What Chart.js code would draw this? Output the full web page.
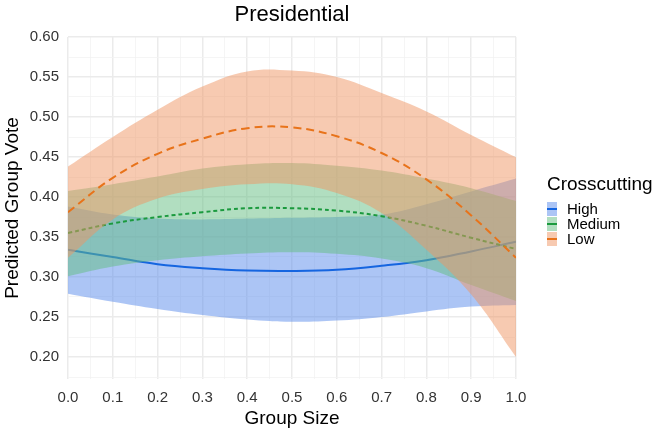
<!DOCTYPE html>
<html lang="en">
<head>
<meta charset="UTF-8">
<title>Presidential</title>
<script src="https://cdn.jsdelivr.net/npm/chart.js"></script>
<style>
  body { margin: 0; background: #fff; }
  #wrap { position: relative; width: 657px; height: 434px; font-family: 'Liberation Sans', Arial, sans-serif; }
  #box { position: absolute; left: 0; top: 0; width: 584px; height: 434px; }
  #legend { position: absolute; left: 547px; top: 173px; color: #000; }
  #legend .title { font-size: 19px; line-height: 22px; margin-bottom: 6px; }
  #legend .row { height: 15px; line-height: 15px; font-size: 15px; display: flex; align-items: center; }
  #legend .key { width: 10px; height: 14px; margin-right: 10px; position: relative; }
  #legend .key span { position: absolute; left: 0; right: 0; top: 6px; border-top-width: 2px; }
</style>
</head>
<body>
<div id="wrap">
  <div id="box"><canvas id="chart"></canvas></div>
  <div id="legend">
    <div class="title">Crosscutting</div>
    <div class="row"><div class="key" style="background:rgba(90,140,235,0.5)"><span style="border-top-style:solid;border-color:#1565e0"></span></div>High</div>
    <div class="row"><div class="key" style="background:rgba(100,190,130,0.5)"><span style="border-top-style:dashed;border-color:#1b9a3e"></span></div>Medium</div>
    <div class="row"><div class="key" style="background:rgba(240,150,100,0.5)"><span style="border-top-style:solid;border-color:#e8731a"></span></div>Low</div>
  </div>
</div>

<script>
    // значения
    const groupSize = [0, 0.1, 0.2, 0.3, 0.4, 0.5, 0.6, 0.7, 0.8, 0.9, 1.0];

    const highMean  = [0.334, 0.325, 0.316, 0.311, 0.308, 0.3075, 0.309, 0.314, 0.321, 0.332, 0.344];
    const highUpper = [0.388, 0.378, 0.373, 0.372, 0.373, 0.374, 0.375, 0.378, 0.391, 0.407, 0.423];
    const highLower = [0.279, 0.269, 0.260, 0.2525, 0.247, 0.244, 0.2455, 0.250, 0.257, 0.263, 0.265];

    const mediumMean  = [0.355, 0.367, 0.375, 0.381, 0.386, 0.386, 0.383, 0.376, 0.364, 0.349, 0.335];
    const mediumUpper = [0.4075, 0.416, 0.4255, 0.4355, 0.441, 0.4425, 0.439, 0.433, 0.423, 0.411, 0.395];
    const mediumLower = [0.301, 0.313, 0.321, 0.326, 0.3295, 0.331, 0.329, 0.323, 0.311, 0.290, 0.270];

    const lowMean  = [0.381, 0.424, 0.454, 0.473, 0.486, 0.487, 0.476, 0.455, 0.422, 0.377, 0.324];
    const lowUpper = [0.438, 0.475, 0.509, 0.538, 0.557, 0.558, 0.550, 0.530, 0.507, 0.4775, 0.4496];
    const lowLower = [0.324, 0.372, 0.398, 0.410, 0.416, 0.416, 0.405, 0.380, 0.334, 0.278, 0.200];

    const xTickMajor = 0.1;
    const yTickMajor = 0.05;

    const pts = arr => arr.map((y, i) => ({ x: groupSize[i], y: y }));
    const font = "'Liberation Sans', Arial, sans-serif";

    function line(values, color, dash) {
        return {
            data: pts(values), borderColor: color, borderWidth: 2, borderDash: dash,
            pointRadius: 0, fill: false, tension: 0.4
        };
    }
    function edge(values, fillColor, fillNext) {
        return {
            data: pts(values), borderWidth: 0, borderColor: 'rgba(0,0,0,0)',
            backgroundColor: fillColor, pointRadius: 0,
            fill: fillNext ? '+1' : false, tension: 0.4
        };
    }

    const isMajor = (v, step) => Math.abs(v / step - Math.round(v / step)) < 1e-6;

    // сетка: основные и промежуточные линии
    function stepTicks(from, to, step) {
        const out = [];
        for (let v = from; v <= to + 1e-9; v += step) out.push({ value: Math.round(v * 1000) / 1000 });
        return out;
    }

    // порядок: последний в массиве рисуется первым
    const datasets = [
        line(lowMean, '#e8731a', [8, 5]),
        edge(lowUpper, 'rgba(240,150,100,0.5)', true),
        edge(lowLower, 'rgba(240,150,100,0.5)', false),
        line(mediumMean, '#1b9a3e', [4, 3]),
        edge(mediumUpper, 'rgba(100,190,130,0.5)', true),
        edge(mediumLower, 'rgba(100,190,130,0.5)', false),
        line(highMean, '#1565e0', []),
        edge(highUpper, 'rgba(90,140,235,0.5)', true),
        edge(highLower, 'rgba(90,140,235,0.5)', false)
    ];

    new Chart(document.getElementById('chart'), {
        type: 'line',
        data: { datasets: datasets },
        options: {
            responsive: true,
            maintainAspectRatio: false,
            animation: false,
            plugins: {
                legend: { display: false },
                tooltip: { enabled: false },
                title: {
                    display: true, text: 'Presidential', color: '#000',
                    font: { family: font, size: 22, weight: 'normal' },
                    padding: { top: 2, bottom: 8.6 }
                }
            },
            scales: {
                x: {
                    type: 'linear', min: 0, max: 1,
                    border: { display: false },
                    afterBuildTicks: s => { s.ticks = stepTicks(0, 1, 0.05); },
                    afterFit: s => { s.height = 55; },
                    grid: {
                        drawTicks: false,
                        color: c => isMajor(c.tick.value, xTickMajor) ? '#ebebeb' : '#f2f2f2',
                        lineWidth: c => isMajor(c.tick.value, xTickMajor) ? 1.5 : 0.8
                    },
                    ticks: {
                        autoSkip: false, maxRotation: 0, padding: 10,
                        color: '#333', font: { family: font, size: 15 },
                        callback: v => isMajor(v, xTickMajor) ? v.toFixed(1) : ''
                    },
                    title: {
                        display: true, text: 'Group Size', color: '#000',
                        font: { family: font, size: 19 }, padding: { top: 0, bottom: 4 }
                    }
                },
                y: {
                    min: 0.1725, max: 0.6,
                    border: { display: false },
                    afterBuildTicks: s => { s.ticks = stepTicks(0.175, 0.6, 0.025); },
                    afterFit: s => { s.width = 68; },
                    grid: {
                        drawTicks: false,
                        color: c => isMajor(c.tick.value, yTickMajor) ? '#ebebeb' : '#f2f2f2',
                        lineWidth: c => isMajor(c.tick.value, yTickMajor) ? 1.5 : 0.8
                    },
                    ticks: {
                        autoSkip: false, padding: 9,
                        color: '#333', font: { family: font, size: 15 },
                        callback: v => isMajor(v, yTickMajor) ? v.toFixed(2) : ''
                    },
                    title: {
                        display: true, text: 'Predicted Group Vote', color: '#000',
                        font: { family: font, size: 19 }, padding: { top: 1, bottom: 6 }
                    }
                },
                // пустая правая ось, чтобы заголовок стоял по центру панели
                right: {
                    position: 'right', min: 0, max: 1,
                    afterFit: s => { s.width = 68; },
                    border: { display: false },
                    grid: { display: false, drawTicks: false },
                    ticks: { display: false }
                }
            }
        }
    });
</script>
</body>
</html>
